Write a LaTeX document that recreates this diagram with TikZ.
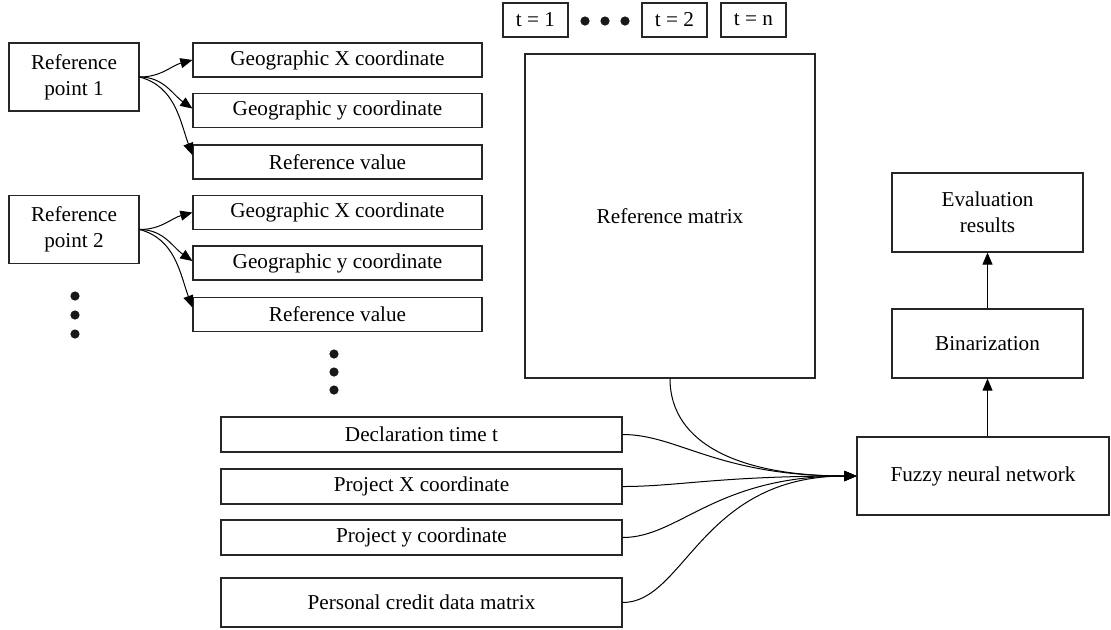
\documentclass[tikz,border=0pt]{standalone}
\usepackage{fontspec}
\setmainfont{Liberation Serif}
\usetikzlibrary{arrows.meta}

\tikzset{
    box/.style={draw=black!85, line width=0.6pt, inner sep=0pt, align=center},
    coordbox/.style={box, minimum width=144.5pt, minimum height=17pt},
    inputbox/.style={box, minimum width=200.5pt, minimum height=17.5pt},
    tbox/.style={box, minimum width=32.5pt, minimum height=17pt},
    dot/.style={circle, fill=black!90, inner sep=0pt, minimum size=4.6pt},
    link/.style={line width=0.5pt, -{Triangle[length=6pt,width=5pt]}},
}

\begin{document}
\begin{tikzpicture}[x=0.5pt, y=-0.5pt, font=\fontsize{10.6}{13}\selectfont]

    \useasboundingbox (0,0) rectangle (1111,629);

    % Reference points with their three values
    \foreach \i/\y in {1/77, 2/229.5} {
        \node[box, minimum width=65pt, minimum height=34pt] (rp\i) at (74,\y) {Reference\\point \i};
        \node[coordbox] (gx\i) at (337.5,\y-17) {Geographic X coordinate};
        \node[coordbox] (gy\i) at (337.5,\y+33.5) {Geographic y coordinate};
        \node[coordbox] (rv\i) at (337.5,\y+85) {Reference value};
        \draw[link] (rp\i.east) to[out=0, in=195] (gx\i.west);
        \draw[link] (rp\i.east) to[out=0, in=145] ([yshift=1pt]gy\i.west);
        \draw[link] (rp\i.east) to[out=-15, in=110] ([yshift=3.5pt]rv\i.west);
    }

    % Dots for the further points
    \foreach \n/\y in {1/296, 2/315, 3/334} {
        \node[dot] (pdot\n) at (75,\y) {};
        }
    \foreach \n/\y in {1/354, 2/372, 3/390} {
        \node[dot] (vdot\n) at (334,\y) {};
        }

    % Time steps
    \node[tbox] (t1) at (535.5,20) {t = 1};
    \foreach \n/\x in {1/585, 2/605, 3/625} {
        \node[dot] (tdot\n) at (\x,21) {};
        }
    \node[tbox] (t2) at (674.5,20) {t = 2};
    \node[tbox] (tn) at (753.5,20) {t = n};

    \node[box, minimum width=145pt, minimum height=162pt] (refmat) at (670,216) {Reference matrix};

    % Project inputs
    \node[inputbox] (dec) at (421.5,434.5) {Declaration time t};
    \node[inputbox] (prx) at (421.5,486.5) {Project X coordinate};
    \node[inputbox] (pry) at (421.5,537.5) {Project y coordinate};
    \node[box, minimum width=200.5pt, minimum height=24.5pt] (pcd) at (421.5,602.5) {Personal credit data matrix};

    % Network and output
    \node[box, minimum width=126pt, minimum height=39pt] (fnn) at (983,476) {Fuzzy neural network};
    \node[box, minimum width=95.5pt, minimum height=34.5pt] (binar) at (987.5,343.5) {Binarization};
    \node[box, minimum width=95.5pt, minimum height=39.5pt] (evalres) at (987.5,212.5) {Evaluation\\results};

    % All inputs run together into the network
    \draw[link] (refmat.south) to[out=-90, in=180, out looseness=0.8, in looseness=1.4] (fnn.west);
    \foreach \n in {dec, prx, pry, pcd} {
        \draw[link] (\n.east) to[out=0, in=180, out looseness=0.6, in looseness=1.5] (fnn.west);
        }

    \draw[link] (binar.south |- fnn.north) -- (binar.south);
    \draw[link] (binar.north) -- (evalres.south);

\end{tikzpicture}
\end{document}
